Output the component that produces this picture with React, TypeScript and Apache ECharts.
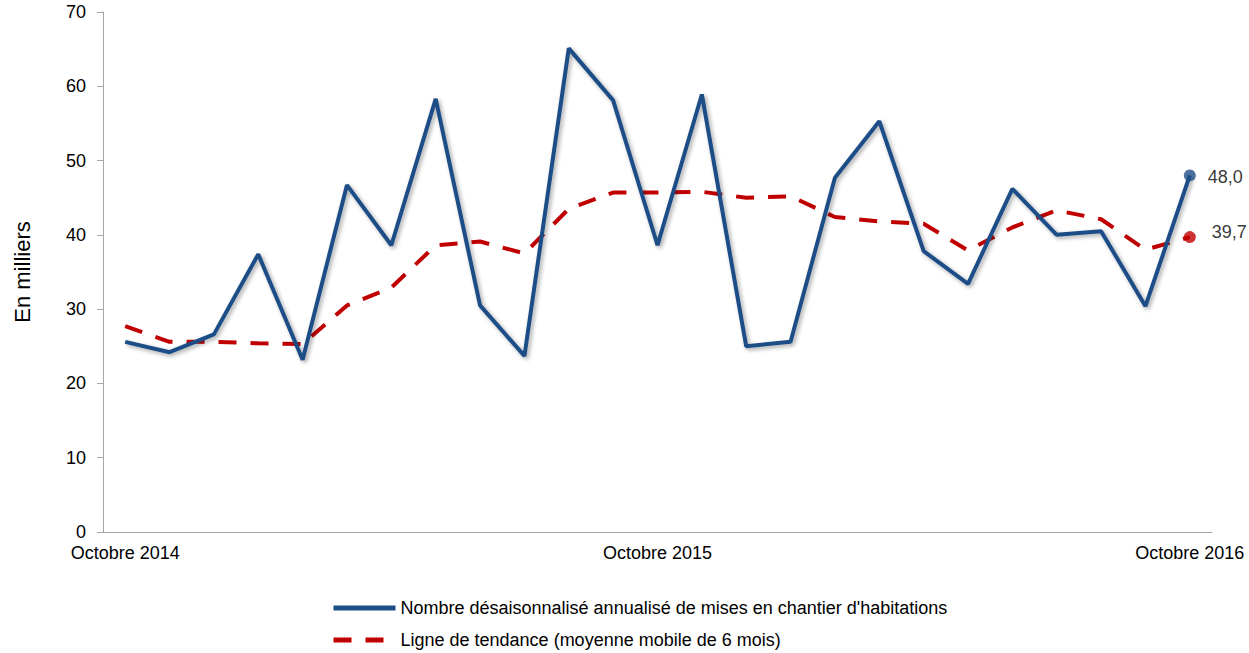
import React, { useEffect, useRef } from "react";
import * as echarts from "echarts";

const months = [
  "Octobre 2014", "Nov 2014", "Déc 2014", "Jan 2015", "Fév 2015", "Mars 2015", "Avr 2015",
  "Mai 2015", "Juin 2015", "Juil 2015", "Août 2015", "Sept 2015", "Octobre 2015",
  "Nov 2015", "Déc 2015", "Jan 2016", "Fév 2016", "Mars 2016", "Avr 2016", "Mai 2016",
  "Juin 2016", "Juil 2016", "Août 2016", "Sept 2016", "Octobre 2016",
];
const shownLabels = [0, 12, 24];

const mises = [
  25.6, 24.2, 26.6, 37.4, 23.2, 46.7, 38.6, 58.3, 30.5, 23.7, 65.1, 58.1, 38.6,
  58.9, 25.0, 25.6, 47.7, 55.3, 37.8, 33.4, 46.2, 40.0, 40.5, 30.4, 48.0,
];
const tendance = [
  27.7, 25.6, 25.6, 25.4, 25.3, 30.5, 32.9, 38.6, 39.1, 37.5, 43.5, 45.7, 45.7,
  45.8, 45.0, 45.2, 42.4, 41.8, 41.5, 37.9, 41.0, 43.3, 42.1, 38.0, 39.7,
];

const nameMises = "Nombre désaisonnalisé annualisé de mises en chantier d'habitations";
const nameTendance = "Ligne de tendance (moyenne mobile de 6 mois)";

const BLUE = "#1F4E87";
const RED = "#C00000";
const FONT = "Liberation Sans, Arial, sans-serif";

export default function App() {
  const ref = useRef<HTMLDivElement>(null);
  useEffect(() => {
    if (!ref.current) return;
    const chart = echarts.init(ref.current, null, { renderer: "svg" });
    const last = months.length - 1;
    const shadow = {
      shadowColor: "rgba(0,0,0,0.35)",
      shadowBlur: 4,
      shadowOffsetX: 2,
      shadowOffsetY: 2,
    };
    const fmt = (p: any) => p.value[1].toFixed(1).replace(".", ",");
    const legendBase = {
      orient: "horizontal",
      left: 326,
      itemWidth: 62,
      itemHeight: 14,
      itemStyle: { opacity: 0 },
      lineStyle: { width: 5 },
      textStyle: { fontFamily: FONT, fontSize: 18, color: "#000" },
    };
    chart.setOption({
      animation: false,
      textStyle: { fontFamily: FONT },
      grid: { left: 103, right: 37, top: 12, bottom: 121 },
      legend: [
        { ...legendBase, top: 594, data: [nameMises] },
        { ...legendBase, top: 626, data: [nameTendance] },
      ],
      xAxis: {
        type: "category",
        data: months,
        boundaryGap: true,
        axisLine: { lineStyle: { color: "#A6A6A6", width: 1 } },
        axisTick: { show: false },
        axisLabel: {
          interval: (i: number) => shownLabels.includes(i),
          color: "#000",
          fontSize: 18,
          fontFamily: FONT,
          margin: 12,
        },
      },
      yAxis: {
        type: "value",
        min: 0,
        max: 70,
        interval: 10,
        name: "En milliers",
        nameLocation: "middle",
        nameRotate: 90,
        nameGap: 70,
        nameTextStyle: { fontSize: 22, color: "#000", fontFamily: FONT },
        axisLine: { show: true, lineStyle: { color: "#A6A6A6", width: 1 } },
        axisTick: { show: true, length: 6, lineStyle: { color: "#A6A6A6" } },
        splitLine: { show: false },
        axisLabel: { color: "#000", fontSize: 18, fontFamily: FONT, margin: 17 },
      },
      series: [
        {
          name: nameMises,
          type: "line",
          data: mises,
          symbol: "none",
          lineStyle: { color: BLUE, width: 4, ...shadow },
          itemStyle: { color: BLUE },
          z: 3,
        },
        {
          name: nameTendance,
          type: "line",
          data: tendance,
          symbol: "none",
          lineStyle: { color: RED, width: 4, type: [18, 14] },
          itemStyle: { color: RED },
          z: 2,
        },
        {
          type: "scatter",
          data: [[last, mises[last]]],
          symbol: "circle",
          symbolSize: 12,
          itemStyle: { color: BLUE },
          label: {
            show: true,
            position: "right",
            distance: 12,
            offset: [0, 2],
            formatter: fmt,
            color: "#000",
            fontSize: 18,
            fontFamily: FONT,
          },
          z: 4,
        },
        {
          type: "scatter",
          data: [[last, tendance[last]]],
          symbol: "circle",
          symbolSize: 12,
          itemStyle: { color: RED },
          label: {
            show: true,
            position: "right",
            distance: 16,
            offset: [0, -5],
            formatter: fmt,
            color: "#000",
            fontSize: 18,
            fontFamily: FONT,
          },
          z: 4,
        },
      ],
    });
    return () => chart.dispose();
  }, []);
  return <div ref={ref} style={{ width: 1249, height: 653, position: "absolute", left: 0, top: 0 }} />;
}
